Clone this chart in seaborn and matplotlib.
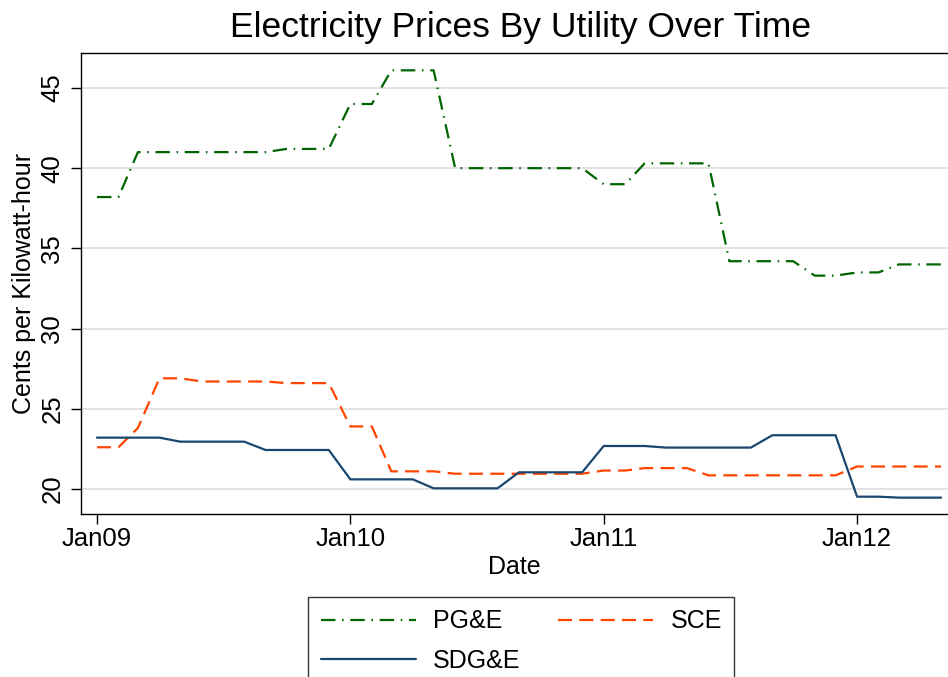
import matplotlib
matplotlib.use('Agg')
import matplotlib.pyplot as plt
import matplotlib.dates as mdates
import seaborn as sns
import pandas as pd

# monthly prices, Jan 2009 - May 2012 (cents per kWh)
months = pd.date_range('2009-01-01', periods=41, freq='MS')

pge = [38.2, 38.2, 41.0, 41.0, 41.0, 41.0, 41.0, 41.0, 41.0, 41.2, 41.2, 41.2,
       44.0, 44.0, 46.1, 46.1, 46.1, 40.0, 40.0, 40.0, 40.0, 40.0, 40.0, 40.0,
       39.0, 39.0, 40.3, 40.3, 40.3, 40.3, 34.2, 34.2, 34.2, 34.2, 33.3, 33.3,
       33.5, 33.5, 34.0, 34.0, 34.0]
sce = [22.6, 22.6, 23.8, 26.9, 26.9, 26.7, 26.7, 26.7, 26.7, 26.6, 26.6, 26.6,
       23.9, 23.9, 21.1, 21.1, 21.1, 20.95, 20.95, 20.95, 20.95, 20.95, 20.95, 20.95,
       21.15, 21.15, 21.3, 21.3, 21.3, 20.85, 20.85, 20.85, 20.85, 20.85, 20.85, 20.85,
       21.4, 21.4, 21.4, 21.4, 21.4]
sdge = [23.2, 23.2, 23.2, 23.2, 22.95, 22.95, 22.95, 22.95, 22.43, 22.43, 22.43, 22.43,
        20.6, 20.6, 20.6, 20.6, 20.04, 20.04, 20.04, 20.04, 21.04, 21.04, 21.04, 21.04,
        22.68, 22.68, 22.68, 22.58, 22.58, 22.58, 22.58, 22.58, 23.35, 23.35, 23.35, 23.35,
        19.52, 19.52, 19.46, 19.46, 19.46]

df = pd.DataFrame({'Date': months, 'PG&E': pge, 'SCE': sce, 'SDG&E': sdge})
long = df.melt(id_vars='Date', var_name='Utility', value_name='Price')

sns.set_theme(style='white')
plt.rcParams['font.family'] = ['Liberation Sans', 'DejaVu Sans']
plt.rcParams['text.color'] = 'black'
plt.rcParams['axes.labelcolor'] = 'black'

fig = plt.figure(figsize=(9.48, 6.77), dpi=100)
ax = fig.add_axes([81 / 948, 1 - 514 / 677, 1 - 81 / 948, (514 - 53) / 677])

palette = {'PG&E': '#006400', 'SCE': '#ff4500', 'SDG&E': '#1a476f'}
dashes = {'PG&E': (6.5, 3.0, 0.7, 3.0), 'SCE': (6.3, 3.3), 'SDG&E': ''}
sns.lineplot(data=long, x='Date', y='Price', hue='Utility', style='Utility',
             palette=palette, dashes=dashes, linewidth=1.6, ax=ax)

ax.set_xlim(pd.Timestamp('2008-12-09'), pd.Timestamp('2012-05-11'))
ax.set_ylim(18.44, 47.18)
ax.set_yticks([20, 25, 30, 35, 40, 45])
ax.xaxis.set_major_locator(mdates.YearLocator())
ax.xaxis.set_major_formatter(mdates.DateFormatter('%b%y'))

ax.grid(axis='y', color='#e0e0e0', linewidth=1.3)
ax.grid(axis='x', visible=False)
for side in ['left', 'top', 'bottom']:
    ax.spines[side].set_color('black')
    ax.spines[side].set_linewidth(1.0)
ax.spines['right'].set_visible(False)

ax.tick_params(axis='both', direction='out', length=7, width=1, color='black',
               labelsize=18.5, labelcolor='black', left=True, bottom=True)
ax.tick_params(axis='x', pad=2)
ax.tick_params(axis='y', pad=5)
for lab in ax.get_yticklabels():
    lab.set_rotation(90)
    lab.set_va('center')

ax.set_xlabel('Date', fontsize=18, color='black', labelpad=3.5)
ax.set_ylabel('Cents per Kilowatt-hour', fontsize=18, color='black', labelpad=3)

fig.text(521 / 948, 1 - 27 / 677, 'Electricity Prices By Utility Over Time',
         fontsize=25.5, ha='center', va='center', color='black')

h, l = ax.get_legend_handles_labels()
lookup = dict(zip(l, h))
order = ['PG&E', 'SDG&E', 'SCE']
leg = ax.legend([lookup[k] for k in order], order, ncol=2, fontsize=18,
                handlelength=3.8, columnspacing=1.5, handletextpad=0.7,
                labelspacing=0.6, borderpad=0.5, borderaxespad=0,
                fancybox=False, frameon=True,
                loc='upper left', bbox_to_anchor=(308 / 948, 1 - 597 / 677),
                bbox_transform=fig.transFigure)
leg.get_frame().set_edgecolor('black')
leg.get_frame().set_linewidth(1.0)
for t in leg.get_texts():
    t.set_color('black')

fig.savefig('out.png', dpi=100)
